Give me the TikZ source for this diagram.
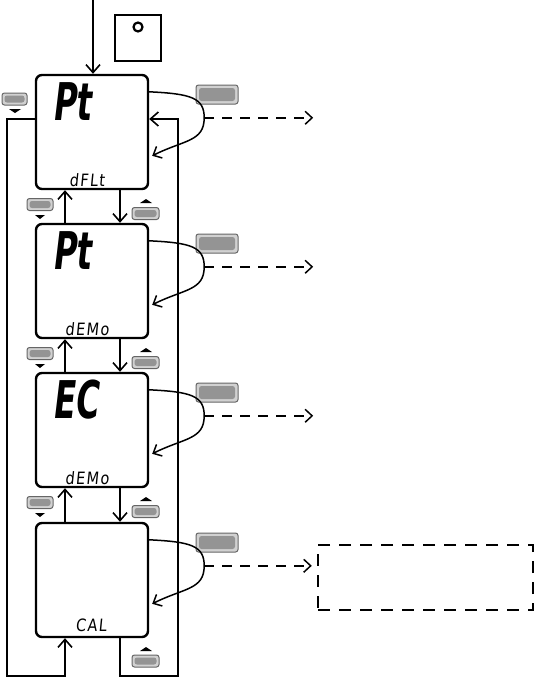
\documentclass[tikz,border=0pt]{standalone}
\usepackage{fontspec}
\usetikzlibrary{arrows.meta,calc}
\newfontfamily\segbig[FakeStretch=0.62,FakeSlant=0.12]{DejaVu Sans}
\newfontfamily\segsmall[FakeStretch=0.85,FakeSlant=0.1,LetterSpace=8]{DejaVu Sans}
\begin{document}
\begin{tikzpicture}[x=1pt,y=-1pt,
  disp/.style={draw,line width=2.4pt,rounded corners=6pt,minimum width=112pt,minimum height=114pt,inner sep=0pt},
  tip/.style={-{Straight Barb[length=8pt,width=14pt,line width=1.6pt]}},
  conn/.style={line width=2pt,tip},
  loopline/.style={line width=2.8pt},
  curv/.style={line width=1.5pt,-{Straight Barb[length=7pt,width=13pt,line width=1.5pt]}},
  dashline/.style={line width=2.4pt,dash pattern=on 10pt off 8pt,-{Straight Barb[length=7pt,width=13pt,line width=1.5pt]}},
  btnbase/.style={draw=black!60,fill=black!18,line width=1pt,rounded corners=2.5pt,inner sep=0pt,
    path picture={\fill[black!42] ([xshift=#1,yshift=-#1]path picture bounding box.north west) rectangle ([xshift=-#1,yshift=#1]path picture bounding box.south east);}},
  bigbtn/.style={btnbase=3pt,minimum width=42pt,minimum height=19pt},
  smbtn/.style={btnbase=2.5pt,minimum width=26pt,minimum height=12pt},
  bigtxt/.style={anchor=north west,inner sep=0pt,font=\segbig\bfseries\fontsize{52}{52}\selectfont},
  smtxt/.style={anchor=south,inner sep=0pt,font=\segsmall\fontsize{17}{17}\selectfont}
]
\useasboundingbox (0,0) rectangle (535,680);

% displays, big buttons, curved arrows
\foreach \i/\yt in {1/75,2/224,3/373,4/523} {
  \node[disp] (d\i) at (92,\yt+57) {};
  \node[bigbtn] (B\i) at (217,\yt+19.5) {};
  \draw[curv] ($(d\i.north east)+(0,18)$) .. controls +(42,2) and +(0,-20) .. ($(d\i.north east)+(55,44)$) coordinate (a\i) .. controls +(0,24) and +(32,-16) .. ($(d\i.north east)+(3,82)$);
}

% display texts
\node[bigtxt] (t1) at (52,82) {Pt};
\node[bigtxt] (t2) at (52,231) {Pt};
\node[bigtxt] (t3) at (52,380) {EC};
\node[smtxt] (s1) at (87,187) {dFLt};
\node[smtxt] (s2) at (87,336) {dEMo};
\node[smtxt] (s3) at (87,485) {dEMo};
\node[smtxt] (s4) at (91,632) {CAL};

% dashed arrows
\node[draw,line width=2.4pt,dash pattern=on 12pt off 9pt,minimum width=215pt,minimum height=65pt,inner sep=0pt] (bx) at (425.5,577.5) {};
\foreach \i in {1,2,3} {
  \draw[dashline] (a\i) -- ($(a\i)+(109,0)$);
}
\draw[dashline] (a4) -- ($(a4 -| bx.west)+(-5,0)$);

% entry arrow and key symbol
\coordinate (top) at (93,0);
\draw[conn] (top) -- (top |- d1.north);
\node[draw,line width=2.8pt,minimum size=46pt,inner sep=0pt] (sq) at (138,38) {};
\node[draw,circle,line width=2.2pt,minimum size=9pt,inner sep=0pt] (ko) at (138,27) {};

% vertical arrows between displays
\coordinate (ux) at (65,0);
\coordinate (dx) at (120,0);
\foreach \i/\j/\yb in {1/2/189,2/3/338,3/4/487} {
  \draw[conn] (d\j.north -| ux) -- (d\i.south -| ux);
  \draw[conn] (d\i.south -| dx) -- (d\j.north -| dx);
  \node[smbtn] (L\i) at (40,\yb+15.5) {};
  \fill (35,\yb+26) -- (45,\yb+26) -- (40,\yb+30) -- cycle;
  \node[smbtn,minimum width=27pt] (R\i) at (145.5,\yb+24.5) {};
  \fill (140,\yb+14) -- (152,\yb+14) -- (146,\yb+10) -- cycle;
}

% outer loops
\coordinate (tl) at (7,119);
\coordinate (bl) at (7,676);
\coordinate (bm) at (65,676);
\draw[loopline,tip] (d1.west |- tl) -- (tl) -- (bl) -- (bm) -- (bm |- d4.south);
\coordinate (bmr) at (120,676);
\coordinate (br) at (178,676);
\coordinate (tr) at (178,119);
\draw[loopline,tip] (d4.south -| dx) -- (bmr) -- (br) -- (tr) -- (d1.east |- tr);

% loop buttons
\node[smbtn,minimum width=25pt] (L0) at (14.5,99) {};
\fill (9,109) -- (21,109) -- (15,113) -- cycle;
\node[smbtn,minimum width=27pt] (R4) at (145.5,661) {};
\fill (140,651) -- (152,651) -- (146,647) -- cycle;
\end{tikzpicture}
\end{document}
